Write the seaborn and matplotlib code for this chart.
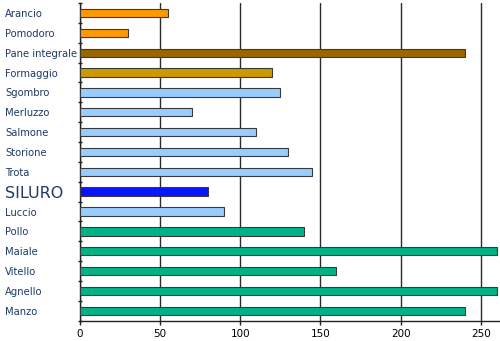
import matplotlib
matplotlib.use("Agg")
import matplotlib.pyplot as plt
import seaborn as sns
import pandas as pd
import numpy as np

# Food items (top to bottom) and their values
categories = ["Arancio", "Pomodoro", "Pane integrale", "Formaggio", "Sgombro",
              "Merluzzo", "Salmone", "Storione", "Trota", "SILURO", "Luccio",
              "Pollo", "Maiale", "Vitello", "Agnello", "Manzo"]
values = [55, 30, 240, 120, 125, 70, 110, 130, 145, 80, 90, 140, 260, 160, 260, 240]
bar_colors = ["#FF9900", "#FF9900", "#996600", "#CC9900", "#99CCFF",
              "#99CCFF", "#99CCFF", "#99CCFF", "#99CCFF", "#0A14FF", "#99CCFF",
              "#00B386", "#00B386", "#00B386", "#00B386", "#00B386"]
x_ticks = [0, 50, 100, 150, 200, 250]

df = pd.DataFrame({"item": categories, "value": values})

sns.set_theme(style="white")
plt.rcParams["font.family"] = ["DejaVu Sans"]

fig = plt.figure(figsize=(5.0, 3.41), dpi=100)
ax = fig.add_axes([0.16, 0.0595, 0.84, 0.9315])

sns.barplot(data=df, x="value", y="item", hue="item", order=categories,
            hue_order=categories, palette=bar_colors, orient="h",
            saturation=1.0, width=0.42, edgecolor="#3a3a3a", linewidth=0.8,
            legend=False, ax=ax, zorder=3)

ax.set_xlim(0, 262)
ax.set_ylim(len(categories) - 0.5, -0.5)
ax.set_xticks(x_ticks)
ax.set_xlabel("")
ax.set_ylabel("")

# vertical gridlines
ax.grid(axis="x", color="#2b2b2b", linewidth=1.0, zorder=0)
ax.grid(axis="y", visible=False)

for s in ["top", "right"]:
    ax.spines[s].set_visible(False)
for s in ["left", "bottom"]:
    ax.spines[s].set_color("#222222")
    ax.spines[s].set_linewidth(1.0)

# category labels, left-aligned at the figure's left edge
ax.tick_params(axis="y", which="major", length=0, pad=54, labelsize=7.2,
               labelcolor="#1F3A64")
for lbl in ax.get_yticklabels():
    lbl.set_horizontalalignment("left")
    if lbl.get_text() == "SILURO":
        lbl.set_fontsize(11.5)

# small boundary ticks between categories
ax.set_yticks(np.arange(-0.5, len(categories), 1.0), minor=True)
ax.tick_params(axis="y", which="minor", length=3, width=1, direction="inout",
               color="#222222", left=True)

ax.tick_params(axis="x", length=3, width=1, direction="out", color="#222222",
               labelsize=7.5, labelcolor="black", pad=3, bottom=True)

fig.savefig("out.png", dpi=100)
